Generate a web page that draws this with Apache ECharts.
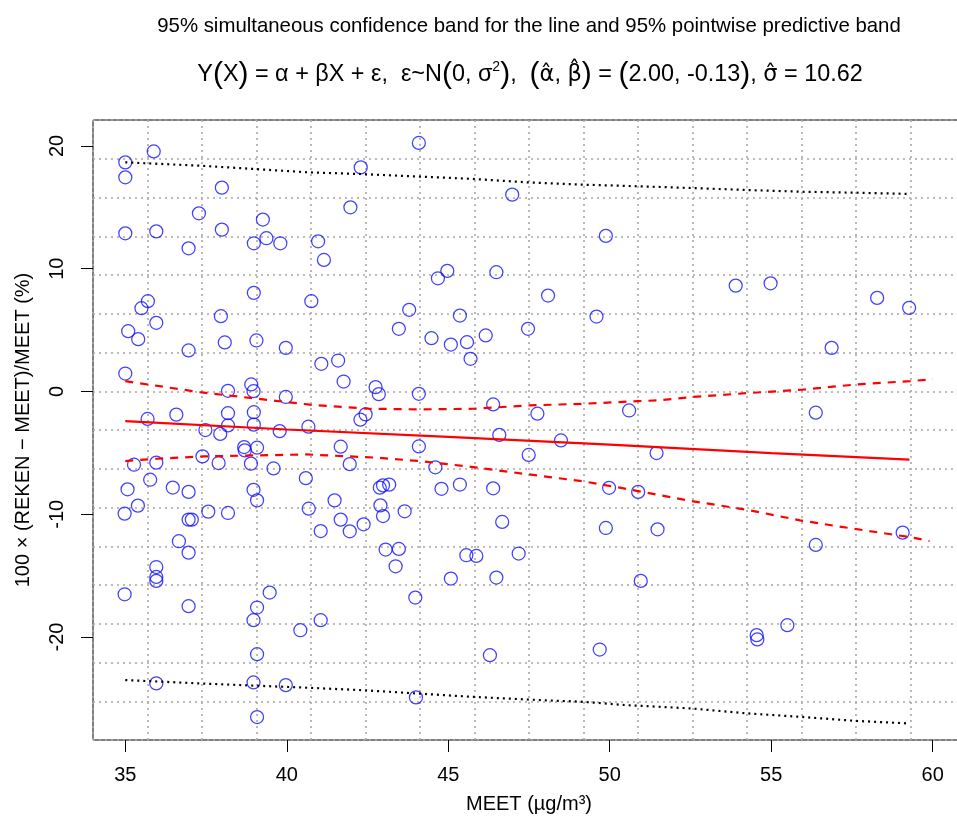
<!DOCTYPE html>
<html>
<head>
<meta charset="utf-8">
<script src="https://cdn.jsdelivr.net/npm/echarts@6/dist/echarts.min.js"></script>
<style>
  html, body { margin: 0; padding: 0; background: #fff; }
  #chart { width: 957px; height: 818px; }
</style>
</head>
<body>
<div id="chart"></div>
<script>
// Measured concentration (x) and relative deviation of the calculation (y)
const meetX = [
  35.0, 35.0, 35.0, 35.09, 35.40, 35.0, 35.70, 35.50, 35.96, 35.88,
  35.96, 36.96, 37.28, 37.99, 37.99, 38.98, 39.26, 39.37, 39.80, 38.98,
  37.96, 38.08, 39.06, 39.97, 36.96, 40.76, 40.97, 38.18, 38.90, 38.97,
  39.97, 35.69, 36.58, 38.18, 38.98, 38.18, 38.98, 40.67, 39.78, 37.48,
  37.94, 41.76, 42.75, 42.85, 44.09, 42.28, 42.44, 41.67, 38.68, 38.70,
  39.08, 37.39, 37.89, 38.89, 35.96, 35.27, 39.59, 41.95, 35.77, 40.59,
  35.07, 36.47, 36.96, 38.97, 39.08, 35.39, 34.98, 37.57, 38.18, 40.68,
  36.96, 37.06, 36.66, 36.96, 35.96, 35.96, 35.96, 34.98, 36.96, 39.47,
  39.08, 38.97, 40.42, 39.08, 35.96, 38.97, 39.97, 39.08, 44.09, 42.29,
  41.97, 46.98, 41.15, 49.88, 44.97, 44.68, 46.49, 48.09, 43.79, 45.36,
  49.59, 43.47, 47.47, 44.48, 45.08, 45.58, 46.16, 45.69, 41.07, 41.59,
  46.39, 47.76, 50.60, 46.58, 48.49, 44.09, 47.49, 51.45, 44.60, 42.88,
  42.98, 43.17, 44.79, 45.36, 46.39, 49.98, 50.88, 41.48, 42.90, 42.98,
  43.65, 41.67, 41.95, 42.38, 41.05, 43.06, 43.47, 43.37, 43.98, 41.05,
  44.00, 46.29, 49.69, 49.88, 46.67, 45.56, 45.87, 47.18, 45.08, 46.49,
  53.90, 54.98, 58.28, 59.27, 56.87, 56.38, 51.48, 50.96, 56.38, 59.07,
  55.50, 54.55, 54.57
];
const relDiff = [
  18.66, 17.44, 12.88, 4.91, 4.26, 1.46, 7.35, 6.78, 5.59, 19.55,
  13.04, 11.66, 14.51, 16.60, 13.18, 12.07, 14.00, 12.48, 12.07, 8.03,
  6.13, 3.99, 4.15, 3.55, 3.34, 7.35, 12.23, 0.05, 0.57, 0.02,
  -0.45, -2.24, -1.89, -1.77, -1.69, -2.77, -2.70, -2.87, -3.23, -3.14,
  -3.46, 0.81, 0.35, -0.22, -0.19, -2.30, -1.87, -4.50, -4.53, -4.80,
  -4.58, -5.29, -5.83, -5.88, -5.80, -5.97, -6.27, -5.92, -7.19, -7.06,
  -7.97, -7.83, -8.18, -8.01, -8.87, -9.30, -9.95, -9.79, -9.90, -9.55,
  -10.44, -10.44, -12.20, -13.13, -14.30, -15.11, -15.43, -16.52, -17.49, -16.38,
  -17.60, -18.63, -19.45, -21.40, -23.78, -23.70, -23.92, -26.52, 20.24, 18.25,
  15.00, 16.03, 10.71, 12.67, 9.82, 9.22, 9.71, 7.81, 6.65, 6.18,
  6.10, 5.10, 5.10, 4.34, 3.82, 4.01, 4.56, 2.66, 2.25, 2.52,
  -1.06, -1.81, -1.55, -3.54, -3.99, -4.48, -5.17, -5.02, -6.18, -7.84,
  -7.65, -7.59, -7.93, -7.58, -7.89, -7.85, -8.18, -8.87, -9.28, -10.15,
  -9.76, -10.44, -11.39, -10.82, -11.37, -12.88, -12.83, -14.24, -16.79, -18.63,
  -24.92, -21.48, -21.02, -11.12, -10.63, -13.34, -13.40, -13.20, -15.24, -15.16,
  8.62, 8.81, 7.62, 6.81, 3.55, -1.73, -11.23, -15.43, -12.50, -11.50,
  -19.04, -19.85, -20.20
];

// Fitted regression line
const fitX = [35, 40, 45, 50, 55, 59.28];
const fitY = [-2.42, -3.10, -3.70, -4.33, -5.02, -5.56];

// 95% simultaneous confidence band for the line
const confUpX = [35, 37.31, 40.72, 42.57, 44.09, 45.76, 47.49, 49.18, 50.88, 51.48, 52.53, 54.24, 55.95, 57.63, 59.30, 60];
const confUpY = [0.84, -0.06, -1.08, -1.41, -1.46, -1.41, -1.14, -1.00, -0.79, -0.73, -0.46, -0.14, 0.14, 0.57, 0.84, 1.00];
const confLoX = [35, 35.96, 37.41, 39.06, 40.60, 42.82, 44.12, 45.77, 47.47, 49.18, 50.31, 52.53, 54.24, 55.89, 57.60, 59.28, 59.90];
const confLoY = [-5.67, -5.48, -5.29, -5.21, -5.13, -5.40, -5.67, -6.16, -6.75, -7.32, -7.84, -8.93, -9.63, -10.50, -11.20, -11.86, -12.18];

// 95% pointwise predictive band
const predUpX = [35, 37.31, 40.72, 42.29, 45.76, 47.47, 49.18, 50.31, 52.53, 54.24, 55.89, 57.60, 59.21];
const predUpY = [18.66, 18.39, 17.84, 17.71, 17.31, 17.03, 16.84, 16.76, 16.57, 16.41, 16.27, 16.19, 16.09];
const predLoX = [35, 37.31, 40.41, 42.36, 44.01, 45.72, 47.42, 49.18, 50.52, 52.53, 54.24, 55.89, 57.60, 59.25];
const predLoY = [-23.51, -23.78, -24.11, -24.33, -24.60, -24.87, -25.09, -25.28, -25.55, -25.82, -26.22, -26.50, -26.83, -27.04];

// Axis ticks
const xTicks = [35, 40, 45, 50, 55, 60];
const yTicks = [-20, -10, 0, 10, 20];

const FONT = 'Liberation Sans, Arial, sans-serif';
const HATFONT = 'DejaVu Sans, Liberation Sans, sans-serif';
const pairs = (xs, ys) => xs.map((x, i) => [x, ys[i]]);

const chart = echarts.init(document.getElementById('chart'), null, { renderer: 'canvas' });

const gridDots = { color: '#a8a8a8', width: 1.6, type: [2, 4] };
const mathText = (size, extra) => Object.assign(
  { fontFamily: FONT, fontSize: size, fontWeight: 'normal', color: '#000', lineHeight: 36 }, extra || {});

chart.setOption({
  animation: false,
  backgroundColor: '#ffffff',
  title: [
    {
      text: '95% simultaneous confidence band for the line and 95% pointwise predictive band',
      left: 524, top: 9, textAlign: 'center',
      textStyle: { fontFamily: FONT, fontSize: 20.4, fontWeight: 'normal', color: '#000', lineHeight: 24 }
    },
    {
      text: '{t|Y}{p|(}{t|X}{p|)}{t| = α + βX + ε,  ε~N}{p|(}{t|0, σ}{s|2}{p|)}{t|,  }{p|(}{h|α̂}{t|, }{h|β̂}{p|)}{t| = }{p|(}{t|2.00, -0.13}{p|)}{t|, }{h|σ̂}{t| = 10.62}',
      left: 525, top: 52, textAlign: 'center',
      textStyle: {
        fontFamily: FONT, fontSize: 23.4, fontWeight: 'normal', color: '#000',
        rich: {
          t: mathText(23.4),
          h: mathText(22.5, { fontFamily: HATFONT }),
          p: mathText(30),
          s: mathText(14, { padding: [0, 0, 15, 0] })
        }
      }
    }
  ],
  grid: {
    left: 93, top: 120, right: -8, bottom: 78,
    show: true, borderColor: '#000', borderWidth: 1,
    containLabel: false, outerBoundsMode: 'none'
  },
  xAxis: [
    {
      type: 'value', min: 34, max: 61,
      name: 'MEET (µg/m³)', nameLocation: 'middle', nameGap: 54,
      nameTextStyle: { fontFamily: FONT, fontSize: 20, color: '#000' },
      axisLine: { show: false, onZero: false },
      axisTick: { show: true, length: 12, customValues: xTicks, lineStyle: { color: '#000', width: 1 } },
      axisLabel: { show: true, margin: 25, customValues: xTicks, fontFamily: FONT, fontSize: 20, color: '#000' },
      splitLine: { show: false }
    },
    {
      type: 'value', min: 0, max: 16, interval: 1, position: 'top',
      axisLine: { show: false, onZero: false }, axisTick: { show: false }, axisLabel: { show: false },
      splitLine: { show: true, lineStyle: gridDots }
    }
  ],
  yAxis: [
    {
      type: 'value', min: -28.39, max: 22.11,
      name: '100 × (REKEN − MEET)/MEET (%)', nameLocation: 'middle', nameGap: 60, nameRotate: 90,
      nameTextStyle: { fontFamily: FONT, fontSize: 20, color: '#000' },
      axisLine: { show: false, onZero: false },
      axisTick: { show: true, length: 12, customValues: yTicks, lineStyle: { color: '#000', width: 1 } },
      axisLabel: { show: true, rotate: 90, margin: 26, customValues: yTicks, fontFamily: FONT, fontSize: 20, color: '#000' },
      splitLine: { show: false }
    },
    {
      type: 'value', min: 0, max: 16, interval: 1, position: 'right',
      axisLine: { show: false, onZero: false }, axisTick: { show: false }, axisLabel: { show: false },
      splitLine: { show: true, lineStyle: gridDots }
    }
  ],
  series: [
    {
      type: 'scatter', xAxisIndex: 0, yAxisIndex: 0,
      data: pairs(meetX, relDiff),
      symbol: 'circle', symbolSize: 13,
      itemStyle: { color: 'rgba(0,0,0,0)', borderColor: '#1010ff', borderWidth: 1.25 },
      z: 3
    },
    {
      type: 'line', data: pairs(fitX, fitY), showSymbol: false,
      lineStyle: { color: '#ff0000', width: 2.2 }, z: 4
    },
    {
      type: 'line', data: pairs(confUpX, confUpY), showSymbol: false,
      lineStyle: { color: '#ff0000', width: 2.2, type: [8, 7] }, z: 4
    },
    {
      type: 'line', data: pairs(confLoX, confLoY), showSymbol: false,
      lineStyle: { color: '#ff0000', width: 2.2, type: [8, 7] }, z: 4
    },
    {
      type: 'line', data: pairs(predUpX, predUpY), showSymbol: false,
      lineStyle: { color: '#000000', width: 2.2, type: [2, 4] }, z: 4
    },
    {
      type: 'line', data: pairs(predLoX, predLoY), showSymbol: false,
      lineStyle: { color: '#000000', width: 2.2, type: [2, 4] }, z: 4
    }
  ]
});
</script>
</body>
</html>
